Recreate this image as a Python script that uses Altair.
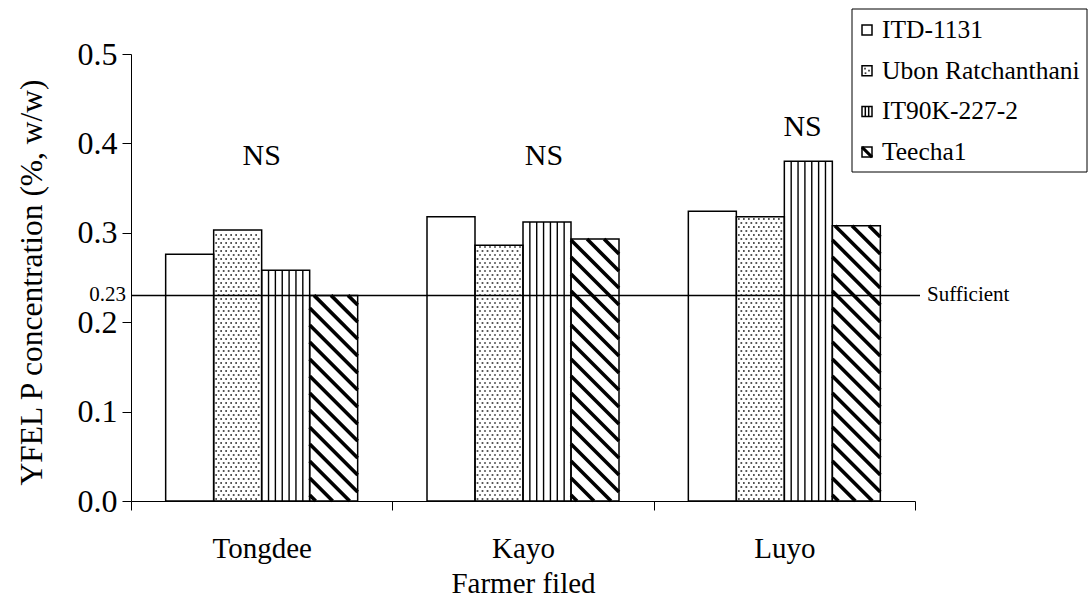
import altair as alt
import pandas as pd

# ---- data -------------------------------------------------------------
SITES = ["Tongdee", "Kayo", "Luyo"]
VARIETIES = ["ITD-1131", "Ubon Ratchanthani", "IT90K-227-2", "Teecha1"]
# YFEL P concentration (%, w/w), one list per farmer field, in VARIETIES order
TONGDEE = [0.276, 0.303, 0.258, 0.230]
KAYO = [0.318, 0.286, 0.312, 0.293]
LUYO = [0.324, 0.318, 0.380, 0.308]
SUFFICIENT = 0.23
NS_LABELS = ["NS", "NS", "NS"]
Y_TICKS = [0.0, 0.1, 0.2, 0.3, 0.4, 0.5]

# ---- layout -----------------------------------------------------------
W, H = 784, 447
X_MIN, Y_MAX = -0.5, 0.5
PX = W / 3.0          # pixels per farmer-field unit on x
PY = H / Y_MAX        # pixels per unit of concentration
BAR_PX = 48
BW = BAR_PX / PX
FONT = "Liberation Serif"


def px_x(p):
    """pixel offset from the plot's left edge -> x data units"""
    return X_MIN + p / PX


def px_y(p):
    """pixel offset from the plot's top edge -> y data units"""
    return Y_MAX - p / PY


# anchors of the "NS" annotations (x in field units, y in concentration)
NS_X = [0.0, 1.08, 2.07]
NS_Y = [0.386, 0.386, 0.418]

xs = alt.Scale(domain=[X_MIN, 2.5], nice=False, zero=False)
ys = alt.Scale(domain=[0, Y_MAX], nice=False, zero=False)

label_expr = " : ".join(
    f"datum.value < {i + 0.5} ? '{s}'" for i, s in enumerate(SITES)
) + " : ''"

x_axis = alt.Axis(
    values=[-0.5, 0.5, 1.5, 2.5], tickSize=9, labelExpr=label_expr,
    labelOffset=PX / 2, labelFlush=False, labelOverlap=False, labelBound=False,
    labelFont=FONT, labelFontSize=29, labelBaseline="alphabetic", labelPadding=47,
    title="Farmer filed", titleFont=FONT, titleFontSize=29, titleFontWeight="normal",
    titleBaseline="alphabetic", titleX=W / 2, titleY=91, titleAnchor="middle",
    grid=False,
)
y_axis = alt.Axis(
    values=Y_TICKS, format=".1f", tickSize=9, labelPadding=5,
    labelFont=FONT, labelFontSize=32,
    title="YFEL P concentration (%, w/w)", titleFont=FONT, titleFontSize=31.5,
    titleFontWeight="normal", titleBaseline="alphabetic", titleAngle=-90,
    titleX=-90, titleY=228, titleAnchor="middle", grid=False,
)


def X(field):
    return alt.X(field, scale=xs, axis=x_axis)


def Y(field):
    return alt.Y(field, scale=ys, axis=y_axis)


rows = []
for si, (site, vals) in enumerate(zip(SITES, [TONGDEE, KAYO, LUYO])):
    for vi, (var, v) in enumerate(zip(VARIETIES, vals)):
        x0 = si + (vi - 2) * BW
        rows.append(dict(site=site, variety=var, value=v, base=0.0, x0=x0, x1=x0 + BW))
bars = pd.DataFrame(rows)

# dotted fill for the second variety
dots = []
for r in bars[bars.variety == VARIETIES[1]].itertuples():
    h = r.value * PY
    j = 0
    while 2 + 4 * j < h - 1:
        u = 2.5 if j % 2 == 0 else 5.0
        while u < BAR_PX - 1.5:
            dots.append(dict(x=r.x0 + u / PX, y=(2 + 4 * j) / PY))
            u += 5
        j += 1
dots = pd.DataFrame(dots)

# vertical stripes for the third variety
vlines = []
for r in bars[bars.variety == VARIETIES[2]].itertuples():
    for k in range(1, 7):
        vlines.append(dict(x=r.x0 + BAR_PX * k / 7 / PX, y0=0.0, y1=r.value))
vlines = pd.DataFrame(vlines)

# diagonal hatching for the fourth variety
diag = []
STEP = 17.0
for r in bars[bars.variety == VARIETIES[3]].itertuples():
    h = r.value * PY
    c = 6.0
    while c < h + BAR_PX:
        u1 = max(0.0, c - h)
        u2 = min(BAR_PX, c)
        if u2 > u1:
            diag.append(dict(x=r.x0 + u1 / PX, y=(c - u1) / PY,
                             x2=r.x0 + u2 / PX, y2=(c - u2) / PY))
        c += STEP
diag = pd.DataFrame(diag)

outline = alt.Chart(bars).mark_bar(
    fill="white", fillOpacity=0, stroke="black", strokeWidth=1.5
).encode(x=X("x0:Q"), x2="x1:Q", y=Y("base:Q"), y2="value:Q")

dot_layer = alt.Chart(dots).mark_square(size=3, color="#3a3a3a", opacity=1).encode(
    x=X("x:Q"), y=Y("y:Q")
)
vline_layer = alt.Chart(vlines).mark_rule(color="black", strokeWidth=1.4).encode(
    x=X("x:Q"), y=Y("y0:Q"), y2="y1:Q"
)
diag_layer = alt.Chart(diag).mark_rule(color="black", strokeWidth=3.6).encode(
    x=X("x:Q"), x2="x2:Q", y=Y("y:Q"), y2="y2:Q"
)

ref = pd.DataFrame({
    "y": [SUFFICIENT], "lab": [f"{SUFFICIENT:.2f}"], "name": ["Sufficient"],
    "x0": [px_x(0)], "x1": [px_x(789)], "xl": [px_x(-5)], "xn": [px_x(796)],
})
ref_rule = alt.Chart(ref).mark_rule(color="black", strokeWidth=1.5).encode(
    x=X("x0:Q"), x2="x1:Q", y=Y("y:Q")
)
ref_val = alt.Chart(ref).mark_text(
    font=FONT, fontSize=21, align="right", baseline="middle", color="black"
).encode(x=X("xl:Q"), y=Y("y:Q"), text="lab:N")
ref_name = alt.Chart(ref).mark_text(
    font=FONT, fontSize=21, align="left", baseline="middle", color="black"
).encode(x=X("xn:Q"), y=Y("y:Q"), text="name:N")

ns = pd.DataFrame({"x": NS_X, "y": NS_Y, "t": NS_LABELS})
ns_layer = alt.Chart(ns).mark_text(
    font=FONT, fontSize=30, baseline="middle", color="black"
).encode(x=X("x:Q"), y=Y("y:Q"), text="t:N")

# ---- legend box -------------------------------------------------------
LEG_X0, LEG_X1, LEG_Y0, LEG_Y1 = 721, 956, -45, 118
SW_X, SW = 731, 10
ROW0, ROW_DY = -24, 40.7
row_py = [ROW0 + i * ROW_DY for i in range(len(VARIETIES))]
leg = pd.DataFrame({
    "variety": VARIETIES,
    "sx0": [px_x(SW_X)] * 4, "sx1": [px_x(SW_X + SW)] * 4,
    "sy0": [px_y(p - SW / 2) for p in row_py], "sy1": [px_y(p + SW / 2) for p in row_py],
    "tx": [px_x(SW_X + SW + 10)] * 4, "ty": [px_y(p) for p in row_py],
})
box_df = pd.DataFrame({"x0": [px_x(LEG_X0)], "x1": [px_x(LEG_X1)],
                       "y0": [px_y(LEG_Y0)], "y1": [px_y(LEG_Y1)]})
box = alt.Chart(box_df).mark_rect(fill="white", stroke="black", strokeWidth=1).encode(
    x=X("x0:Q"), x2="x1:Q", y=Y("y0:Q"), y2="y1:Q"
)

leg_dots = pd.DataFrame([
    dict(x=px_x(SW_X + du), y=px_y(row_py[1] + dv))
    for du, dv in [(3, -2), (7, 0), (3.5, 2.5)]
])
leg_v = pd.DataFrame({
    "x": [px_x(SW_X + 3.3), px_x(SW_X + 6.7)],
    "y0": [px_y(row_py[2] - 5)] * 2, "y1": [px_y(row_py[2] + 5)] * 2,
})
leg_d = pd.DataFrame({
    "x": [px_x(SW_X)], "y": [px_y(row_py[3] - 5)],
    "x2": [px_x(SW_X + SW)], "y2": [px_y(row_py[3] + 5)],
})

sw_dots = alt.Chart(leg_dots).mark_square(size=3, color="#3a3a3a", opacity=1).encode(
    x=X("x:Q"), y=Y("y:Q")
)
sw_v = alt.Chart(leg_v).mark_rule(color="black", strokeWidth=1.5).encode(
    x=X("x:Q"), y=Y("y0:Q"), y2="y1:Q"
)
sw_d = alt.Chart(leg_d).mark_rule(color="black", strokeWidth=3).encode(
    x=X("x:Q"), x2="x2:Q", y=Y("y:Q"), y2="y2:Q"
)
sw_box = alt.Chart(leg).mark_rect(fillOpacity=0, stroke="black", strokeWidth=1.5).encode(
    x=X("sx0:Q"), x2="sx1:Q", y=Y("sy0:Q"), y2="sy1:Q"
)
leg_text = alt.Chart(leg).mark_text(
    font=FONT, fontSize=25.5, align="left", baseline="middle", color="black"
).encode(x=X("tx:Q"), y=Y("ty:Q"), text="variety:N")

chart = alt.layer(
    outline, dot_layer, vline_layer, diag_layer,
    ref_rule, ref_val, ref_name, ns_layer,
    box, sw_dots, sw_v, sw_d, sw_box, leg_text,
).properties(
    width=W, height=H,
    autosize=alt.AutoSizeParams(type="none"),
    padding={"left": 131, "top": 54, "right": 1092 - 131 - W, "bottom": 602 - 54 - H},
).configure(font=FONT).configure_view(stroke=None).configure_axis(
    labelFont=FONT, titleFont=FONT, labelColor="black", titleColor="black",
    domainColor="black", tickColor="black", domainWidth=1, tickWidth=1,
).configure_text(font=FONT)

chart.save("out.html", embed_options={"renderer": "svg", "actions": False})
